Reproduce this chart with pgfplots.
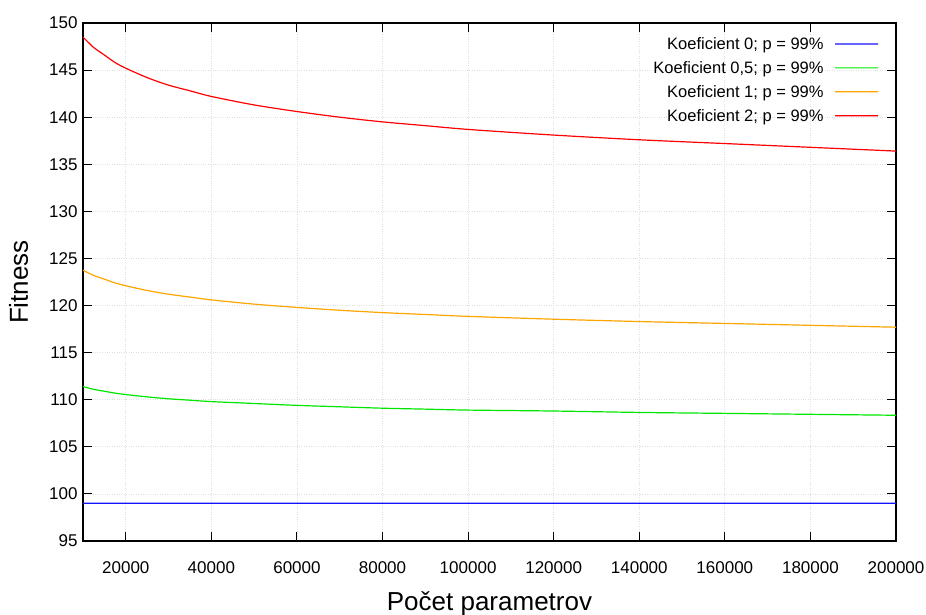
\documentclass[border=0pt]{standalone}
\usepackage{fontspec}
\setmainfont{Liberation Sans}
\usepackage{pgfplots}
\pgfplotsset{compat=1.18}
\definecolor{cblue}{RGB}{20,20,255}
\definecolor{cgreen}{RGB}{0,230,0}
\definecolor{corange}{RGB}{255,165,0}
\definecolor{cred}{RGB}{255,0,0}
\begin{document}
\begin{tikzpicture}[x=1pt,y=1pt]
\useasboundingbox (-83pt,-74pt) rectangle (843pt,541pt);
\begin{axis}[
  at={(0,0)}, anchor=south west,
  width=813pt, height=518pt, scale only axis,
  xmin=10000, xmax=200000, ymin=95, ymax=150,
  xtick={20000,40000,...,200000},
  ytick={95,100,...,150},
  scaled x ticks=false,
  xticklabel style={/pgf/number format/fixed, /pgf/number format/set thousands separator={}},
  /pgf/number format/assume math mode=true,
  tick align=inside,
  major tick length=9pt,
  tick style={black, line width=1pt},
  axis line style={black, line width=1.3pt},
  grid=major,
  major grid style={gray!25, dotted, line width=0.8pt},
  ticklabel style={font=\fontsize{17}{20}\selectfont},
  xticklabel style={yshift=-17pt},
  yticklabel style={xshift=-2pt},
  xlabel={Počet parametrov},
  ylabel={Fitness},
  label style={font=\fontsize{26}{30}\selectfont},
  xlabel style={yshift=-11pt},
  ylabel style={yshift=14pt},
  legend style={at={(rel axis cs:1,1)}, anchor=north east, xshift=-14pt, yshift=-10pt,
    draw=none, fill=none, font=\fontsize{16.5}{19}\selectfont,
    row sep=6.5pt, cells={anchor=east}},
  legend plot pos=right,
  legend image code/.code={\path (15pt,0pt); \draw[#1] plot[smooth] coordinates {(24pt,0pt) (45.5pt,0.01pt) (67pt,0pt)};},
]
\addplot[draw=cblue, mark=none, smooth, line width=1.2pt] coordinates {
(10000,99) (50000,99.001) (100000,99) (150000,99.001) (200000,99)};
\addlegendentry{Koeficient 0; p = 99\%}
\addplot[draw=cgreen, mark=none, smooth, line width=1.2pt] coordinates {
(10000,111.4) (12500,111.1) (15000,110.9) (17500,110.7) (20000,110.55)
(25000,110.3) (30000,110.1) (35000,109.95) (40000,109.8) (50000,109.6)
(60000,109.4) (70000,109.25) (80000,109.1) (90000,109.0) (100000,108.9)
(120000,108.8) (140000,108.65) (160000,108.55) (180000,108.45) (200000,108.35)};
\addlegendentry{Koeficient 0,5; p = 99\%}
\addplot[draw=corange, mark=none, smooth, line width=1.2pt] coordinates {
(10000,123.75) (12500,123.2) (15000,122.8) (17500,122.4) (20000,122.1)
(25000,121.6) (30000,121.2) (35000,120.9) (40000,120.6) (50000,120.15)
(60000,119.8) (70000,119.5) (80000,119.25) (90000,119.05) (100000,118.85)
(120000,118.55) (140000,118.3) (160000,118.1) (180000,117.9) (200000,117.7)};
\addlegendentry{Koeficient 1; p = 99\%}
\addplot[draw=cred, mark=none, smooth, line width=1.2pt] coordinates {
(10000,148.5) (12500,147.4) (15000,146.6) (17500,145.8) (20000,145.2)
(25000,144.2) (30000,143.4) (35000,142.8) (40000,142.2) (50000,141.3)
(60000,140.6) (70000,140.0) (80000,139.5) (90000,139.1) (100000,138.7)
(120000,138.1) (140000,137.6) (160000,137.2) (180000,136.8) (200000,136.4)};
\addlegendentry{Koeficient 2; p = 99\%}
\end{axis}
\end{tikzpicture}
\end{document}
